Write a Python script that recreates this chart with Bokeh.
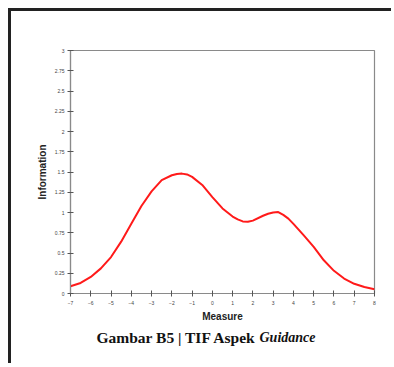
from bokeh.plotting import figure
from bokeh.models import Range1d, FixedTicker, Label
from bokeh.layouts import column
from bokeh.embed import file_html
from bokeh.resources import INLINE

measure = [-7, -6.5, -6, -5.5, -5, -4.5, -4, -3.5, -3, -2.5, -2, -1.75, -1.5, -1.25, -1,
           -0.5, 0, 0.5, 1, 1.25, 1.5, 1.75, 2, 2.5, 2.75, 3, 3.25, 3.5, 3.75, 4, 4.5,
           5, 5.5, 6, 6.5, 7, 7.5, 8]
information = [0.09, 0.13, 0.205, 0.31, 0.45, 0.64, 0.86, 1.08, 1.26, 1.40, 1.46, 1.475,
               1.48, 1.47, 1.44, 1.34, 1.19, 1.05, 0.95, 0.915, 0.89, 0.885, 0.90, 0.96,
               0.985, 1.0, 1.005, 0.97, 0.925, 0.86, 0.72, 0.575, 0.41, 0.28, 0.185, 0.12,
               0.08, 0.053]
x_ticks = list(range(-7, 9))
y_ticks = [0, 0.25, 0.5, 0.75, 1, 1.25, 1.5, 1.75, 2, 2.25, 2.5, 2.75, 3]
caption_main = "Gambar B5 | TIF Aspek"
caption_italic = "Guidance"

W = 380
p = figure(width=W, height=314, output_backend="svg", toolbar_location=None,
           x_range=Range1d(-7, 8), y_range=Range1d(0, 3),
           min_border_left=59, min_border_right=17, min_border_top=39, min_border_bottom=32)
p.grid.visible = False
p.outline_line_color = "#8a8a8a"
p.outline_line_width = 1.2
p.background_fill_color = "white"
p.border_fill_color = "white"

p.line(measure, information, line_color="#ff1a1a", line_width=2, line_join="round")

for ax in (p.xaxis, p.yaxis):
    ax.axis_line_color = "#8a8a8a"
    ax.axis_line_width = 1.2
    ax.major_tick_line_color = "#555555"
    ax.major_tick_in = 3
    ax.major_tick_out = 3
    ax.minor_tick_line_color = None
    ax.major_label_text_font = "Liberation Sans"
    ax.major_label_text_font_size = "5px"
    ax.major_label_text_color = "#444444"
    ax.axis_label_text_font = "Liberation Sans"
    ax.axis_label_text_font_style = "bold"
    ax.axis_label_text_font_size = "10px"
    ax.axis_label_text_color = "#222222"

p.xaxis.ticker = FixedTicker(ticks=x_ticks)
p.yaxis.ticker = FixedTicker(ticks=y_ticks)
p.xaxis.axis_label = "Measure"
p.yaxis.axis_label = "Information"
p.xaxis.major_label_standoff = 4
p.yaxis.major_label_standoff = 3
p.xaxis.axis_label_standoff = 3
p.yaxis.axis_label_standoff = 4

# caption strip
c = figure(width=W, height=38, output_backend="svg", toolbar_location=None,
           x_range=Range1d(0, 1), y_range=Range1d(0, 1),
           min_border=0, min_border_left=0, min_border_right=0,
           min_border_top=0, min_border_bottom=0)
c.axis.visible = False
c.grid.visible = False
c.outline_line_color = None
c.border_fill_color = "white"
c.background_fill_color = "white"
c.add_layout(Label(x=26, y=26, x_units="screen", y_units="screen",
                   text=caption_main, text_font="Liberation Serif",
                   text_font_style="bold", text_font_size="15.5px", text_color="#111111",
                   text_baseline="alphabetic"))
c.add_layout(Label(x=189, y=26, x_units="screen", y_units="screen",
                   text=caption_italic, text_font="Liberation Serif",
                   text_font_style="bold italic", text_font_size="14px", text_color="#111111",
                   text_baseline="alphabetic"))

layout = column(p, c, spacing=0)
layout.styles = {"margin-left": "8px", "margin-top": "8px",
                 "border-left": "3px solid #222", "border-top": "3px solid #222"}

open("out.html", "w").write(file_html(layout, INLINE))
